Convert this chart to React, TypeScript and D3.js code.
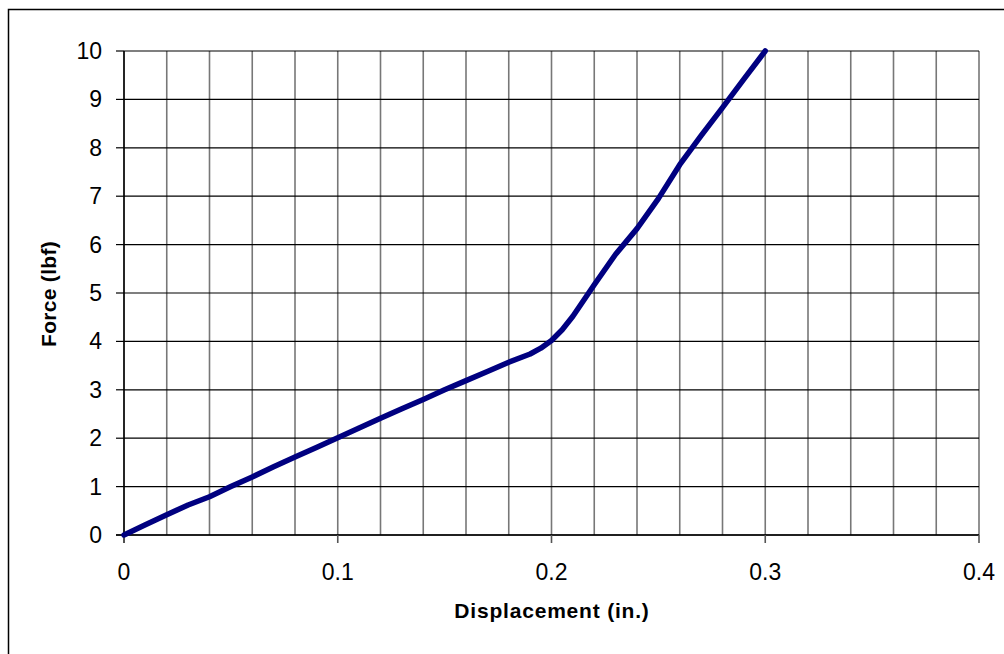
import React from "react";
import * as d3 from "d3";

const displacement = [0, 0.01, 0.02, 0.03, 0.04, 0.05, 0.06, 0.07, 0.08, 0.09, 0.1, 0.11, 0.12, 0.13, 0.14, 0.15, 0.16, 0.17, 0.18, 0.19, 0.195, 0.2, 0.205, 0.21, 0.22, 0.23, 0.24, 0.25, 0.26, 0.27, 0.28, 0.29, 0.3];
const force = [0, 0.21, 0.42, 0.62, 0.79, 1.0, 1.2, 1.41, 1.61, 1.81, 2.01, 2.21, 2.41, 2.61, 2.8, 3.0, 3.19, 3.38, 3.57, 3.74, 3.86, 4.02, 4.24, 4.52, 5.17, 5.8, 6.33, 6.95, 7.65, 8.25, 8.83, 9.42, 10.0];
const xTicks = [0, 0.1, 0.2, 0.3, 0.4];
const xGrid = d3.range(0, 21).map((i) => i * 0.02);
const yTicks = [0, 1, 2, 3, 4, 5, 6, 7, 8, 9, 10];

const W = 1004;
const H = 654;
const L = 124, R = 979, T = 51, B = 535;

export default function App() {
  const x = d3.scaleLinear().domain([0, 0.4]).range([L, R]);
  const y = d3.scaleLinear().domain([0, 10]).range([B, T]);
  const pts = displacement.map((d, i) => [d, force[i]] as [number, number]);
  const line = d3.line<[number, number]>().x((d) => x(d[0])).y((d) => y(d[1]));
  const font = "'Liberation Sans', Arial, sans-serif";
  return (
    <svg width={W} height={H} style={{ position: "absolute", left: 0, top: 0, background: "#fff" }}>
      <rect x={8.5} y={9.5} width={1100} height={800} fill="#fff" stroke="#000" strokeWidth={1.5} />
      {xGrid.map((g, i) => (
        <line key={"vx" + i} x1={x(g)} x2={x(g)} y1={T} y2={B} stroke="#777" strokeWidth={1.6} />
      ))}
      {yTicks.map((t) => (
        <line key={"hy" + t} x1={L} x2={R} y1={y(t)} y2={y(t)} stroke="#000" strokeWidth={1.2} />
      ))}
      <line x1={L} x2={L} y1={T} y2={B + 8} stroke="#000" strokeWidth={1.5} />
      <line x1={L - 8} x2={R} y1={B} y2={B} stroke="#000" strokeWidth={1.5} />
      {yTicks.map((t) => (
        <line key={"ty" + t} x1={L - 8} x2={L} y1={y(t)} y2={y(t)} stroke="#000" strokeWidth={1.2} />
      ))}
      {xTicks.map((t) => (
        <line key={"tx" + t} x1={x(t)} x2={x(t)} y1={B} y2={B + 8} stroke="#555" strokeWidth={1.6} />
      ))}
      <path d={line(pts) || ""} fill="none" stroke="#000080" strokeWidth={5.5} strokeLinejoin="round" strokeLinecap="round" />
      {yTicks.map((t) => (
        <text key={"ly" + t} x={102} y={y(t) + 8} textAnchor="end" fontFamily={font} fontSize={23} fill="#000">
          {t}
        </text>
      ))}
      {xTicks.map((t) => (
        <text key={"lx" + t} x={x(t)} y={580} textAnchor="middle" fontFamily={font} fontSize={23} fill="#000">
          {t}
        </text>
      ))}
      <text x={552} y={618} textAnchor="middle" fontFamily={font} fontSize={21} fontWeight="bold" letterSpacing={0.8} fill="#000">
        Displacement (in.)
      </text>
      <text transform="translate(56,294) rotate(-90)" textAnchor="middle" fontFamily={font} fontSize={21} fontWeight="bold" letterSpacing={0.3} fill="#000">
        Force (lbf)
      </text>
    </svg>
  );
}
